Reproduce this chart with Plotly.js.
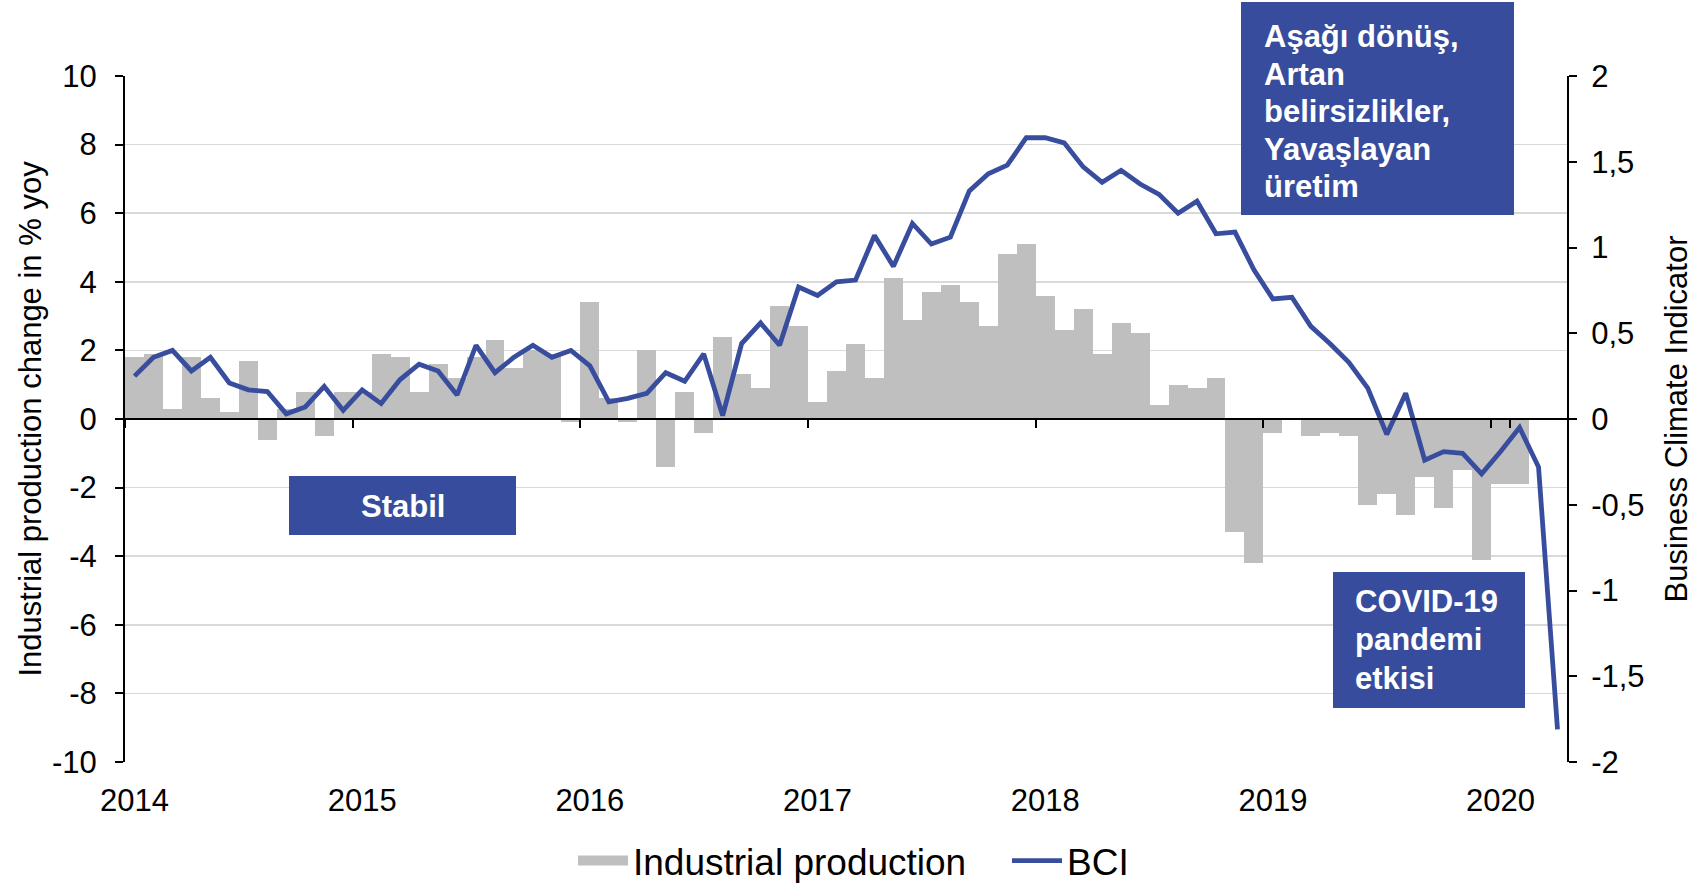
<!DOCTYPE html>
<html>
<head>
<meta charset="utf-8">
<script src="https://cdn.plot.ly/plotly-3.0.1.min.js"></script>
<style>
html,body{margin:0;padding:0;background:#ffffff;}
#chart{width:1694px;height:885px;}
</style>
</head>
<body>
<div id="chart"></div>
<script>
// ---- Data ----
const months = [
  '2014-01','2014-02','2014-03','2014-04','2014-05','2014-06','2014-07','2014-08','2014-09','2014-10','2014-11','2014-12',
  '2015-01','2015-02','2015-03','2015-04','2015-05','2015-06','2015-07','2015-08','2015-09','2015-10','2015-11','2015-12',
  '2016-01','2016-02','2016-03','2016-04','2016-05','2016-06','2016-07','2016-08','2016-09','2016-10','2016-11','2016-12',
  '2017-01','2017-02','2017-03','2017-04','2017-05','2017-06','2017-07','2017-08','2017-09','2017-10','2017-11','2017-12',
  '2018-01','2018-02','2018-03','2018-04','2018-05','2018-06','2018-07','2018-08','2018-09','2018-10','2018-11','2018-12',
  '2019-01','2019-02','2019-03','2019-04','2019-05','2019-06','2019-07','2019-08','2019-09','2019-10','2019-11','2019-12',
  '2020-01','2020-02','2020-03','2020-04'
];

// Industrial production, % yoy (Jan 2014 - Feb 2020)
const industrialProduction = [
  1.8, 1.9, 0.3, 1.8, 0.6, 0.2, 1.7, -0.6, 0.3, 0.8, -0.5, 0.8,
  0.8, 1.9, 1.8, 0.8, 1.6, 1.2, 1.8, 2.3, 1.5, 2.0, 1.9, -0.1,
  3.4, 0.6, -0.1, 2.0, -1.4, 0.8, -0.4, 2.4, 1.3, 0.9, 3.3, 2.7,
  0.5, 1.4, 2.2, 1.2, 4.1, 2.9, 3.7, 3.9, 3.4, 2.7, 4.8, 5.1,
  3.6, 2.6, 3.2, 1.9, 2.8, 2.5, 0.4, 1.0, 0.9, 1.2, -3.3, -4.2,
  -0.4, 0.0, -0.5, -0.4, -0.5, -2.5, -2.2, -2.8, -1.7, -2.6, -1.5, -4.1,
  -1.9, -1.9
];

// Business Climate Indicator (Jan 2014 - Apr 2020)
const bci = [
  0.25, 0.36, 0.40, 0.28, 0.36, 0.21, 0.17, 0.16, 0.03, 0.07, 0.19, 0.05,
  0.17, 0.09, 0.23, 0.32, 0.28, 0.14, 0.43, 0.27, 0.36, 0.43, 0.36, 0.40,
  0.31, 0.10, 0.12, 0.15, 0.27, 0.22, 0.38, 0.02, 0.44, 0.56, 0.43, 0.77,
  0.72, 0.80, 0.81, 1.07, 0.89, 1.14, 1.02, 1.06, 1.33, 1.43, 1.48, 1.64,
  1.64, 1.61, 1.47, 1.38, 1.45, 1.37, 1.31, 1.20, 1.27, 1.08, 1.09, 0.87,
  0.70, 0.71, 0.54, 0.44, 0.33, 0.18, -0.09, 0.15, -0.24, -0.19, -0.20, -0.32,
  -0.19, -0.05, -0.28, -1.81
];

const yearTickVals = ['2014-01','2015-01','2016-01','2017-01','2018-01','2019-01','2020-01'];
const yearTickText = ['2014','2015','2016','2017','2018','2019','2020'];
const leftTickVals = [-10, -8, -6, -4, -2, 0, 2, 4, 6, 8, 10];
const leftTickText = ['-10', '-8', '-6', '-4', '-2', '0', '2', '4', '6', '8', '10'];
const rightTickVals = [-2, -1.5, -1, -0.5, 0, 0.5, 1, 1.5, 2];
const rightTickText = ['-2', '-1,5', '-1', '-0,5', '0', '0,5', '1', '1,5', '2'];

const boxTopRight = ['Aşağı dönüş,', 'Artan', 'belirsizlikler,', 'Yavaşlayan', 'üretim'];
const boxStable = 'Stabil';
const boxCovid = ['COVID-19', 'pandemi', 'etkisi'];

// ---- Layout helpers ----
const W = 1694, H = 885;
const M = {l: 125, r: 127, t: 76, b: 123};
const PW = W - M.l - M.r, PH = H - M.t - M.b;
const px = v => (v - M.l) / PW;
const py = v => (H - M.b - v) / PH;

const FONT = 'Liberation Sans, Arial, Helvetica, sans-serif';
const BLUE = '#384d9d';
const BOX = '#374c9c';
const GREY = '#bfbfbf';

const traces = [
  {
    type: 'bar',
    name: 'Industrial production',
    legendgroup: 'ip',
    showlegend: false,
    x: months.slice(0, industrialProduction.length),
    y: industrialProduction,
    marker: {color: GREY, line: {width: 0}},
    xaxis: 'x', yaxis: 'y'
  },
  {
    // legend key for the bars (wide grey block, as in the original)
    type: 'scatter',
    mode: 'lines',
    name: 'Industrial production',
    legendgroup: 'ip',
    x: [null], y: [null],
    line: {color: GREY, width: 20},
    xaxis: 'x', yaxis: 'y',
    hoverinfo: 'skip'
  },
  {
    type: 'scatter',
    mode: 'lines',
    name: 'BCI',
    x: months,
    y: bci,
    line: {color: BLUE, width: 4.8},
    xaxis: 'x2', yaxis: 'y2'
  }
];

const shapes = [];
const annotations = [];
function box(x0, x1, y0, y1) {
  shapes.push({type: 'rect', xref: 'paper', yref: 'paper',
    x0: px(x0), x1: px(x1), y0: py(y1), y1: py(y0),
    fillcolor: BOX, line: {width: 0}, layer: 'above'});
}
function label(text, x, y, xanchor) {
  annotations.push({xref: 'paper', yref: 'paper', x: px(x), y: py(y),
    xanchor: xanchor, yanchor: 'middle', showarrow: false, text: text,
    font: {family: FONT, size: 31, color: '#ffffff', weight: 'bold'}});
}

box(1241, 1514, 2, 215);
boxTopRight.forEach((t, i) => label('<b>' + t + '</b>', 1262, 36.7 + i * 37.5, 'left'));
box(289, 516, 476, 535);
label('<b>' + boxStable + '</b>', 402.5, 506, 'center');
box(1333, 1525, 572, 708);
boxCovid.forEach((t, i) => label('<b>' + t + '</b>', 1353, 601.7 + i * 38.2, 'left'));

const layout = {
  width: W, height: H,
  margin: Object.assign({autoexpand: false}, M),
  paper_bgcolor: '#ffffff',
  plot_bgcolor: '#ffffff',
  font: {family: FONT, size: 31, color: '#000000'},
  bargap: 0,
  showlegend: true,
  legend: {
    orientation: 'h', x: px(573), xanchor: 'left',
    yref: 'container', y: 1 - 861 / H, yanchor: 'middle',
    font: {family: FONT, size: 37, color: '#000000'},
    bgcolor: 'rgba(0,0,0,0)', itemwidth: 50,
    entrywidth: 369, entrywidthmode: 'pixels'
  },
  xaxis: {
    type: 'category', categoryorder: 'array', categoryarray: months,
    range: [-0.5, months.length - 0.5],
    tickmode: 'array', tickvals: yearTickVals, ticktext: yearTickText,
    ticks: '', showline: false, showgrid: false, zeroline: false,
    tickfont: {family: FONT, size: 31, color: '#000000'},
    ticklabelstandoff: 17,
    anchor: 'y', side: 'bottom', fixedrange: true
  },
  xaxis2: {
    type: 'category', categoryorder: 'array', categoryarray: months,
    range: [-0.5, months.length - 0.5],
    overlaying: 'x', anchor: 'free', position: 0.5,
    tickmode: 'array', tickvals: yearTickVals, tickson: 'boundaries',
    ticks: 'outside', ticklen: 8, tickwidth: 2, tickcolor: '#000000',
    showticklabels: false, showline: true, linecolor: '#000000', linewidth: 2,
    showgrid: false, zeroline: false, fixedrange: true
  },
  yaxis: {
    range: [-10, 10],
    tickmode: 'array', tickvals: leftTickVals, ticktext: leftTickText,
    ticks: 'outside', ticklen: 8, tickwidth: 2, tickcolor: '#000000',
    showline: true, linecolor: '#000000', linewidth: 2,
    showgrid: true, gridcolor: '#d9d9d9', gridwidth: 1.5, zeroline: false,
    tickfont: {family: FONT, size: 31, color: '#000000'},
    ticklabelstandoff: 12,
    title: {text: 'Industrial production change in % yoy', font: {family: FONT, size: 31, color: '#000000'}, standoff: 1},
    anchor: 'x', fixedrange: true
  },
  yaxis2: {
    range: [-2, 2],
    overlaying: 'y', side: 'right', anchor: 'x2',
    tickmode: 'array', tickvals: rightTickVals, ticktext: rightTickText,
    ticks: 'outside', ticklen: 8, tickwidth: 2, tickcolor: '#000000',
    showline: true, linecolor: '#000000', linewidth: 2,
    showgrid: false, zeroline: false,
    tickfont: {family: FONT, size: 31, color: '#000000'},
    ticklabelstandoff: 8,
    title: {text: 'Business Climate Indicator', font: {family: FONT, size: 31, color: '#000000'}, standoff: 22},
    fixedrange: true
  },
  shapes: shapes,
  annotations: annotations
};

Plotly.newPlot('chart', traces, layout, {displayModeBar: false, staticPlot: true});
</script>
</body>
</html>
